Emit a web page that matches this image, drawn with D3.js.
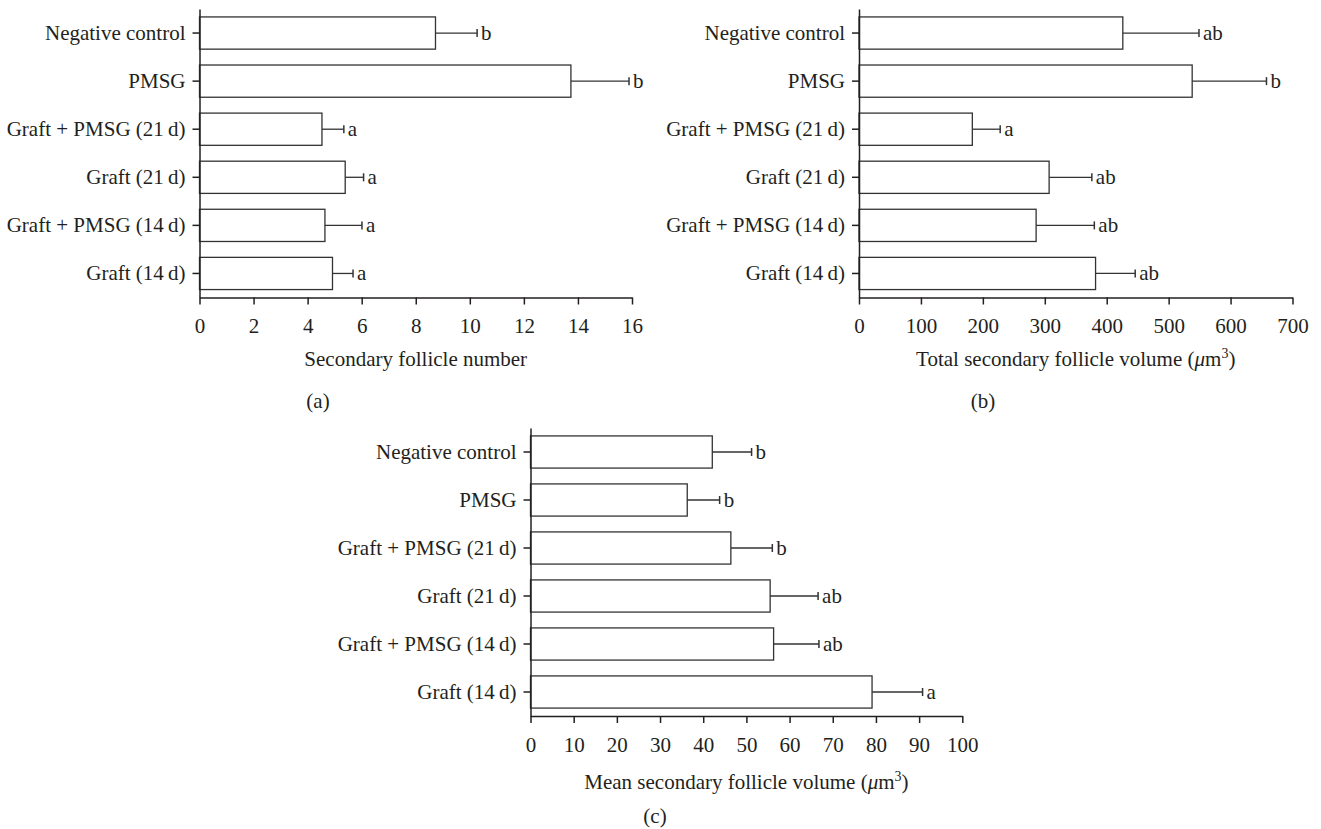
<!DOCTYPE html>
<html><head><meta charset="utf-8">
<script src="https://cdn.jsdelivr.net/npm/d3@7"></script>
<style>
body{margin:0;background:#fff}
svg{display:block}
text{font-family:"Liberation Serif","Times New Roman",serif;fill:#231f20}
</style>
</head><body><svg id="chart" width="1321" height="829"></svg>
<script>
const categories = ["Negative control","PMSG","Graft + PMSG (21\u2009d)","Graft (21\u2009d)","Graft + PMSG (14\u2009d)","Graft (14\u2009d)"];

const numberMean = [8.73, 13.74, 4.53, 5.39, 4.64, 4.92];
const numberSem  = [1.54, 2.15, 0.81, 0.68, 1.37, 0.76];
const numberLetters = ["b","b","a","a","a","a"];
const numberTicks = [0,2,4,6,8,10,12,14,16];

const totalMean = [426, 538, 183, 307, 286, 382];
const totalSem  = [123, 120, 45, 69, 94, 64];
const totalLetters = ["ab","b","a","ab","ab","ab"];
const totalTicks = [0,100,200,300,400,500,600,700];

const meanVol = [42.1, 36.3, 46.4, 55.5, 56.3, 79.1];
const meanVolSem = [9.1, 7.5, 9.6, 11.1, 10.5, 11.7];
const meanVolLetters = ["b","b","b","ab","ab","a"];
const meanVolTicks = [0,10,20,30,40,50,60,70,80,90,100];

const svg = d3.select("#chart");
const FS = 21;
const INK = "#231f20";

function panel(opts){
  const g = svg.append("g");
  const x = d3.scaleLinear().domain([0, opts.ticks[opts.ticks.length-1]]).range([opts.x0, opts.x1]);
  const y = d3.scaleBand().domain(categories).range([opts.y0, opts.y1]).paddingInner(0.33).paddingOuter(0.165);

  g.selectAll("rect.bar").data(categories).join("rect")
    .attr("x", x(0)).attr("y", d => y(d))
    .attr("width", (d,i) => x(opts.mean[i]) - x(0))
    .attr("height", y.bandwidth())
    .attr("fill", "#fff").attr("stroke", "#333").attr("stroke-width", 1.3);

  g.selectAll("line.err").data(categories).join("line")
    .attr("x1", (d,i) => x(opts.mean[i])).attr("x2", (d,i) => x(opts.mean[i] + opts.sem[i]))
    .attr("y1", d => y(d) + y.bandwidth()/2).attr("y2", d => y(d) + y.bandwidth()/2)
    .attr("stroke", "#333").attr("stroke-width", 1.3);
  g.selectAll("line.cap").data(categories).join("line")
    .attr("x1", (d,i) => x(opts.mean[i] + opts.sem[i])).attr("x2", (d,i) => x(opts.mean[i] + opts.sem[i]))
    .attr("y1", d => y(d) + y.bandwidth()/2 - 4).attr("y2", d => y(d) + y.bandwidth()/2 + 4)
    .attr("stroke", "#333").attr("stroke-width", 1.5);
  g.selectAll("text.let").data(categories).join("text")
    .attr("x", (d,i) => x(opts.mean[i] + opts.sem[i]) + 4)
    .attr("y", d => y(d) + y.bandwidth()/2 + 7)
    .attr("font-size", FS)
    .text((d,i) => opts.letters[i]);

  const xa = g.append("g").attr("transform", `translate(0,${opts.y1})`)
    .call(d3.axisBottom(x).tickValues(opts.ticks).tickSize(7).tickSizeOuter(0).tickPadding(opts.tickPad));
  const ya = g.append("g").attr("transform", `translate(${opts.x0},0)`)
    .call(d3.axisLeft(y).tickSize(7).tickSizeOuter(0).tickPadding(7));
  [xa, ya].forEach(a => {
    a.selectAll("path.domain").attr("stroke", INK).attr("stroke-width", 1.5);
    a.selectAll(".tick line").attr("stroke", INK).attr("stroke-width", 1.5);
    a.selectAll("text").attr("font-size", FS).attr("fill", INK)
      .attr("font-family", '"Liberation Serif","Times New Roman",serif');
  });

  const t = g.append("text").attr("x", (opts.x0 + opts.x1)/2).attr("y", opts.titleY)
    .attr("text-anchor", "middle").attr("font-size", FS);
  opts.title(t);

  g.append("text").attr("x", opts.labelX).attr("y", opts.labelY)
    .attr("text-anchor", "middle").attr("font-size", FS).text(opts.label);
}

function volTitle(prefix){
  return t => {
    t.append("tspan").text(prefix + " (");
    t.append("tspan").attr("font-style", "italic").text("\u03bc");
    t.append("tspan").text("m");
    t.append("tspan").attr("font-size", 14).attr("dy", -8).text("3");
    t.append("tspan").attr("dy", 8).text(")");
  };
}

panel({x0:199.5, x1:632, y0:9, y1:297.5, ticks:numberTicks, mean:numberMean, sem:numberSem, letters:numberLetters,
  tickPad:14, titleY:366, title: t => t.text("Secondary follicle number"), label:"(a)", labelX:318, labelY:408});
panel({x0:859, x1:1292.5, y0:9, y1:297.5, ticks:totalTicks, mean:totalMean, sem:totalSem, letters:totalLetters,
  tickPad:14, titleY:366, title: volTitle("Total secondary follicle volume"), label:"(b)", labelX:983, labelY:408});
panel({x0:530.5, x1:962.3, y0:428, y1:716, ticks:meanVolTicks, mean:meanVol, sem:meanVolSem, letters:meanVolLetters,
  tickPad:14, titleY:789, title: volTitle("Mean secondary follicle volume"), label:"(c)", labelX:655, labelY:823});
</script>
</body></html>
